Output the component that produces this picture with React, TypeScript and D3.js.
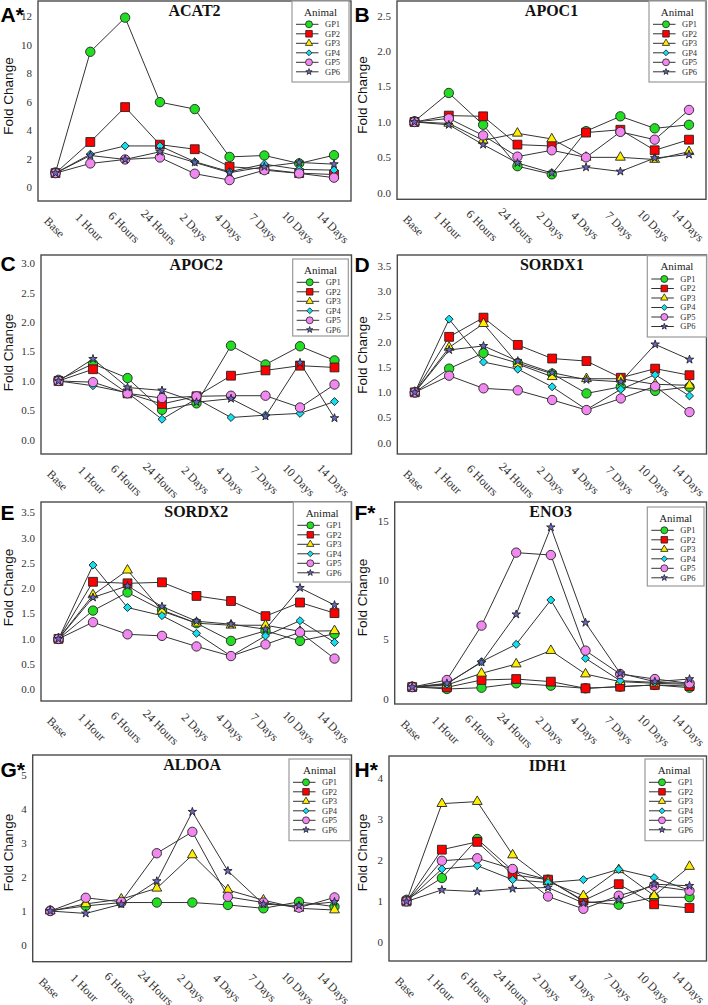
import React from "react";
import * as d3 from "d3";

const timepoints = ["Base", "1 Hour", "6 Hours", "24 Hours", "2 Days", "4 Days", "7 Days", "10 Days", "14 Days"];
const animals = ["GP1", "GP2", "GP3", "GP4", "GP5", "GP6"];

type Series = number[] | null;

const acat2: Series[] = [
  [1.05, 9.53, 11.93, 5.99, 5.5, 2.14, 2.24, 1.68, 2.26],
  [1.0, 3.19, 5.64, 3.0, 2.68, 1.45, 1.28, 1.0, 0.9],
  null,
  [1.0, 2.33, 2.91, 2.91, 1.8, 1.1, 1.63, 1.26, 1.21],
  [1.0, 1.68, 1.96, 2.1, 0.96, 0.51, 1.21, 0.98, 0.68],
  [1.0, 2.24, 1.96, 2.5, 1.75, 1.03, 1.45, 1.75, 1.63],
];
const apoc1: Series[] = [
  [1.01, 1.41, 0.96, 0.375, 0.26, 0.87, 1.08, 0.91, 0.96],
  [1.0, 1.09, 1.08, 0.68, 0.66, 0.85, 0.89, 0.6, 0.75],
  [1.0, 0.98, 0.74, 0.84, 0.76, 0.5, 0.5, 0.47, 0.58],
  null,
  [1.0, 1.05, 0.81, 0.51, 0.6, 0.5, 0.86, 0.75, 1.17],
  [1.0, 0.96, 0.68, 0.42, 0.28, 0.36, 0.3, 0.49, 0.54],
];
const apoc2: Series[] = [
  [1.02, 1.29, 1.05, 0.51, 0.62, 1.6, 1.28, 1.59, 1.35],
  [1.0, 1.2, 0.79, 0.61, 0.74, 1.09, 1.18, 1.26, 1.23],
  null,
  [1.0, 0.92, 0.8, 0.35, 0.7, 0.38, 0.42, 0.45, 0.65],
  [1.0, 0.98, 0.79, 0.71, 0.74, 0.75, 0.75, 0.55, 0.94],
  [1.0, 1.375, 0.89, 0.84, 0.64, 0.7, 0.4, 1.31, 0.37],
];
const sordx1: Series[] = [
  [1.0, 1.47, 1.78, 1.58, 1.37, 0.98, 1.11, 1.03, 1.11],
  [1.0, 2.1, 2.48, 1.94, 1.67, 1.62, 1.29, 1.47, 1.34],
  [1.0, 1.89, 2.36, 1.56, 1.31, 1.27, 1.27, 1.16, 1.14],
  [1.0, 2.45, 1.6, 1.46, 1.11, 0.66, 1.06, 1.35, 0.93],
  [1.0, 1.33, 1.08, 1.04, 0.85, 0.65, 0.88, 1.12, 0.61],
  [1.0, 1.84, 1.92, 1.62, 1.39, 1.25, 1.21, 1.95, 1.65],
];
const sordx2: Series[] = [
  [1.0, 1.56, 1.92, 1.57, 1.31, 0.96, 1.16, 0.96, 1.1],
  [1.0, 2.13, 2.1, 2.12, 1.85, 1.75, 1.45, 1.72, 1.51],
  [1.0, 1.87, 2.36, 1.55, 1.31, 1.27, 1.27, 1.15, 1.16],
  [1.0, 2.46, 1.62, 1.46, 1.11, 0.66, 1.06, 1.36, 0.93],
  [1.0, 1.33, 1.09, 1.06, 0.85, 0.66, 0.89, 1.13, 0.61],
  [1.0, 1.82, 2.05, 1.64, 1.35, 1.29, 1.19, 2.01, 1.67],
];
const eno3: Series[] = [
  [1.04, 0.84, 0.95, 1.32, 1.12, 0.9, 1.04, 1.18, 0.95],
  [1.0, 0.98, 1.6, 1.68, 1.46, 0.9, 1.04, 1.18, 1.09],
  [1.0, 1.18, 2.16, 2.94, 4.07, 2.1, 1.46, 1.32, 1.23],
  [1.0, 1.26, 3.14, 4.6, 8.33, 3.42, 1.54, 1.4, 1.32],
  [1.0, 1.6, 6.17, 12.31, 12.11, 4.07, 2.1, 1.68, 1.32],
  [1.0, 1.32, 3.08, 7.12, 14.44, 6.42, 2.16, 1.46, 1.68],
];
const aldoa: Series[] = [
  [1.01, 1.15, 1.25, 1.25, 1.25, 1.18, 1.08, 1.27, 1.13],
  null,
  [1.0, 1.21, 1.35, 1.67, 2.65, 1.62, 1.32, 1.08, 1.03],
  null,
  [1.0, 1.39, 1.27, 2.7, 3.33, 1.42, 1.25, 1.1, 1.4],
  [1.0, 0.93, 1.2, 1.88, 3.92, 2.18, 1.2, 1.16, 1.27],
];
const idh1: Series[] = [
  [1.04, 1.57, 2.52, 1.75, 1.53, 1.0, 0.92, 1.1, 1.1],
  [1.0, 2.26, 2.45, 1.65, 1.53, 1.02, 1.42, 0.93, 0.84],
  [1.0, 3.38, 3.43, 2.13, 1.48, 1.14, 1.77, 1.14, 1.85],
  [1.0, 1.79, 1.87, 1.53, 1.46, 1.53, 1.78, 1.58, 1.27],
  [1.0, 1.99, 2.05, 1.79, 1.12, 0.82, 1.14, 1.38, 1.26],
  [1.0, 1.28, 1.24, 1.31, 1.34, 0.96, 1.04, 1.42, 1.38],
];

const ticksA = [0, 2, 4, 6, 8, 10, 12];
const ticksB = [0, 0.5, 1, 1.5, 2, 2.5];
const ticksC = [0, 0.5, 1, 1.5, 2, 2.5, 3];
const ticksDE = [0, 0.5, 1, 1.5, 2, 2.5, 3, 3.5];
const ticksF = [0, 5, 10, 15];
const ticksG = [0, 1, 2, 3, 4, 5];
const ticksH = [0, 1, 2, 3, 4];

// layout (positions only)
const panels = [
  { gene: "ACAT2", letter: "A*", data: acat2, ox: 0, frame: [38, 1, 351, 201], domain: [-0.96, 13.1], ticks: ticksA, fmt: "d", letterY: 22, labelY: 96, legend: [292, 1, 349, 82] },
  { gene: "APOC1", letter: "B", data: apoc1, ox: 354, frame: [397, 1, 706, 199.3], domain: [-0.093, 2.71], ticks: ticksB, fmt: ".1f", letterY: 22, labelY: 95, legend: [649, 1, 705.5, 82] },
  { gene: "APOC2", letter: "C", data: apoc2, ox: 0, frame: [41, 255, 351.5, 454], domain: [-0.24, 3.14], ticks: ticksC, fmt: ".1f", letterY: 271, labelY: 352.5, legend: [292.7, 259, 348.3, 336] },
  { gene: "SORDX1", letter: "D", data: sordx1, ox: 354, frame: [397.3, 255, 706.5, 454], domain: [-0.22, 3.72], ticks: ticksDE, fmt: ".1f", letterY: 271.5, labelY: 355, legend: [647.3, 255.7, 706.5, 337] },
  { gene: "SORDX2", letter: "E", data: sordx2, ox: 0, frame: [41, 502, 351.5, 701], domain: [-0.23, 3.71], ticks: ticksDE, fmt: ".1f", letterY: 519.5, labelY: 587.5, legend: [293.3, 502, 351, 582] },
  { gene: "ENO3", letter: "F*", data: eno3, ox: 354, frame: [394.7, 502, 706.5, 704], domain: [-0.42, 16.57], ticks: ticksF, fmt: "d", letterY: 520, labelY: 597.5, legend: [647.3, 507, 704, 586] },
  { gene: "ALDOA", letter: "G*", data: aldoa, ox: 0, frame: [32.7, 755, 351.5, 961.7], domain: [-0.49, 5.59], ticks: ticksG, fmt: "d", letterY: 777, labelY: 852.5, legend: [289, 759, 350, 840.7] },
  { gene: "IDH1", letter: "H*", data: idh1, ox: 354, frame: [389, 756, 706.5, 961], domain: [-0.45, 4.54], ticks: ticksH, fmt: "d", letterY: 777, labelY: 852.5, legend: [645, 759, 703.3, 840.7] },
];

const fills = ["#22DD22", "#FF0000", "#FFEE00", "#11E0F0", "#F088F0", "#6868CC"];
const shapes = ["circle", "square", "triangle", "diamond", "circle", "star"];

function markerPath(shape: string, scale: number): { d: string; rot: number } {
  let sym: any = d3.symbolCircle;
  let size = 69;
  let rot = 0;
  if (shape === "square") { sym = d3.symbolSquare; size = 78; }
  if (shape === "triangle") { sym = d3.symbolTriangle; size = 42; }
  if (shape === "diamond") { sym = d3.symbolSquare; size = 32; rot = 45; }
  if (shape === "star") { sym = d3.symbolStar; size = 22; }
  return { d: d3.symbol().type(sym).size(size * scale)() as string, rot };
}

const serif = "'Liberation Serif', 'Times New Roman', serif";
const sans = "'Liberation Sans', Arial, sans-serif";

function Panel({ p }: { p: any }) {
  const [l, t, r, b] = p.frame;
  const x = d3.scalePoint<string>().domain(timepoints).range([l + 17.5, r - 17]);
  const y = d3.scaleLinear().domain(p.domain).range([b, t]);
  const fmt = d3.format(p.fmt);
  const line = d3
    .line<[string, number]>()
    .x((d) => x(d[0]) as number)
    .y((d) => y(d[1]));
  const [lx0, ly0, lx1, ly1] = p.legend;
  const lcx = (lx0 + lx1) / 2;
  return (
    <g>
      <text x={p.ox + 0.5} y={p.letterY} fontFamily={sans} fontWeight="bold" fontSize={21} fill="#000">
        {p.letter}
      </text>
      <text
        transform={`translate(${p.ox + 12.5},${p.labelY}) rotate(-90)`}
        textAnchor="middle"
        fontFamily={sans}
        fontSize={13.5}
        fill="#111"
      >
        Fold Change
      </text>
      {p.ticks.map((v: number) => (
        <text key={v} x={l - 6} y={y(v)} dy="0.35em" textAnchor="end" fontFamily={serif} fontSize={11} fill="#333">
          {fmt(v)}
        </text>
      ))}
      {timepoints.map((c) => (
        <text
          key={c}
          transform={`translate(${(x(c) as number) - 1},${b + 26}) rotate(45)`}
          textAnchor="middle"
          dy="0.35em"
          fontFamily={serif}
          fontSize={12}
          fill="#333"
        >
          {c}
        </text>
      ))}
      <rect x={l} y={t} width={r - l} height={b - t} fill="none" stroke="#4a4a4a" strokeWidth={1.4} />
      <text x={(l + r) / 2} y={t + 15} textAnchor="middle" fontFamily={serif} fontWeight="bold" fontSize={16} fill="#111">
        {p.gene}
      </text>
      {p.data.map((s: Series, i: number) => {
        if (!s) return null;
        const pts: [string, number][] = s.map((v, k) => [timepoints[k], v]);
        const m = markerPath(shapes[i], 1);
        return (
          <g key={i}>
            <path d={line(pts) as string} fill="none" stroke="#333" strokeWidth={1} />
            {pts.map((d, k) => (
              <path
                key={k}
                d={m.d}
                transform={`translate(${x(d[0])},${y(d[1])}) rotate(${m.rot})`}
                fill={fills[i]}
                stroke="#222"
                strokeWidth={0.9}
              />
            ))}
          </g>
        );
      })}
      <rect x={lx0} y={ly0} width={lx1 - lx0} height={ly1 - ly0} fill="#fff" stroke="#9a9a9a" strokeWidth={1.2} />
      <text x={lcx} y={ly0 + 14.5} textAnchor="middle" fontFamily={serif} fontSize={11} fill="#222">
        Animal
      </text>
      {animals.map((a, i) => {
        const yy = ly0 + 23.3 + i * 9.5;
        const m = markerPath(shapes[i], 0.55);
        return (
          <g key={a}>
            <line x1={lx0 + 4} x2={lx0 + 26.5} y1={yy} y2={yy} stroke="#333" strokeWidth={1} />
            <path d={m.d} transform={`translate(${lx0 + 17},${yy}) rotate(${m.rot})`} fill={fills[i]} stroke="#222" strokeWidth={0.8} />
            <text x={lx0 + 33} y={yy} dy="0.35em" fontFamily={serif} fontSize={8.5} fill="#333">
              {a}
            </text>
          </g>
        );
      })}
    </g>
  );
}

export default function App() {
  return (
    <div style={{ position: "absolute", left: 0, top: 0 }}>
      <svg width={708} height={1005} style={{ display: "block", background: "#fff" }}>
        {panels.map((p) => (
          <Panel key={p.gene} p={p} />
        ))}
      </svg>
    </div>
  );
}
